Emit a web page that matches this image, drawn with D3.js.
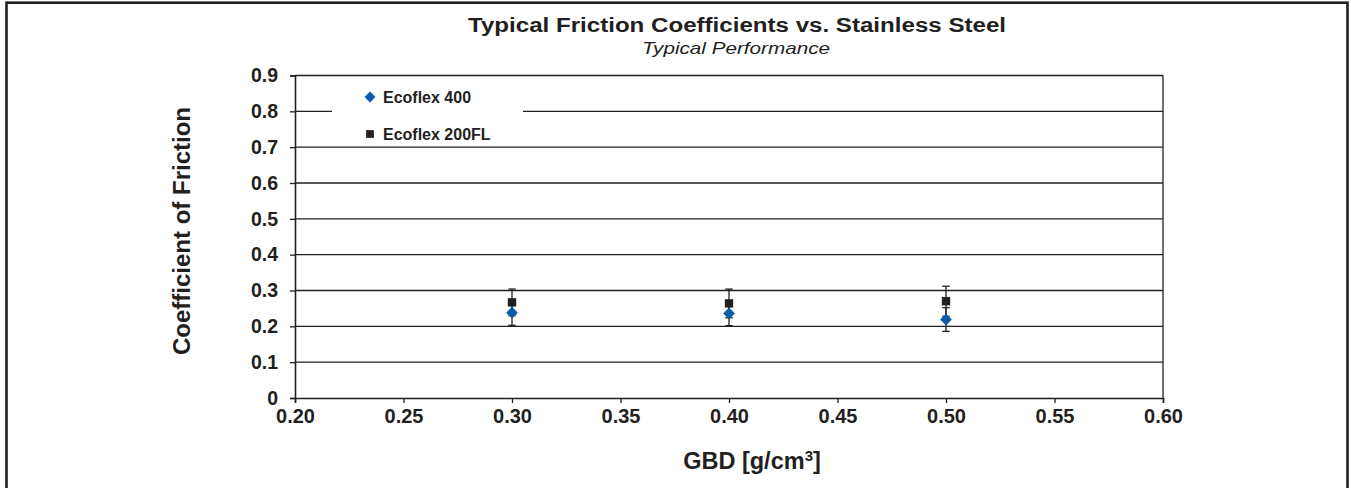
<!DOCTYPE html>
<html>
<head>
<meta charset="utf-8">
<script src="https://cdn.jsdelivr.net/npm/d3@7"></script>
<style>
  html, body { margin: 0; padding: 0; background: #fff; }
  svg { display: block; }
  text { font-family: "Liberation Sans", Arial, Helvetica, sans-serif; fill: #231f20; }
</style>
</head>
<body>
<svg id="chart" width="1351" height="488"></svg>
<script>
// data
const gbd = [0.30, 0.40, 0.50]
const ecoflex400 = [0.238, 0.236, 0.219]
const ecoflex400Err = [0.035, 0.034, 0.033]
const ecoflex200FL = [0.267, 0.264, 0.270]
const ecoflex200FLErr = [0.037, 0.040, 0.042]

const xTicks = [0.20, 0.25, 0.30, 0.35, 0.40, 0.45, 0.50, 0.55, 0.60]
const yTicks = [0, 0.1, 0.2, 0.3, 0.4, 0.5, 0.6, 0.7, 0.8, 0.9]

const ink = '#231f20'
const blue = '#0a5bab'

const svg = d3.select('#chart')

// outer frame
svg.append('rect')
  .attr('x', 6.5).attr('y', 2.7)
  .attr('width', 1341).attr('height', 500)
  .attr('fill', 'none')
  .attr('stroke', ink)
  .attr('stroke-width', 2.6)

const plotLeft = 295, plotRight = 1163, plotTop = 75.5, plotBottom = 398

const x = d3.scaleLinear().domain([0.20, 0.60]).range([plotLeft, plotRight])
const y = d3.scaleLinear().domain([0, 0.9]).range([plotBottom, plotTop])

// gridlines
svg.append('g')
  .selectAll('line')
  .data(yTicks.filter(d => d > 0))
  .enter().append('line')
  .attr('x1', plotLeft).attr('x2', plotRight)
  .attr('y1', d => y(d)).attr('y2', d => y(d))
  .attr('stroke', ink)
  .attr('stroke-width', 1.3)

// right border of plot
svg.append('line')
  .attr('x1', plotRight).attr('x2', plotRight)
  .attr('y1', plotTop).attr('y2', plotBottom)
  .attr('stroke', ink).attr('stroke-width', 1.3)

// axes
const yAxis = svg.append('g')
  .attr('transform', `translate(${plotLeft},0)`)
  .call(d3.axisLeft(y).tickValues(yTicks).tickSize(5).tickPadding(12)
    .tickFormat(d => d === 0 ? '0' : d3.format('.1f')(d)))
yAxis.select('.domain').attr('stroke', ink).attr('stroke-width', 1.6)
yAxis.selectAll('.tick line').attr('stroke', ink).attr('stroke-width', 1.3)
yAxis.selectAll('.tick text')
  .style('font-family', '"Liberation Sans", Arial, sans-serif')
  .style('font-weight', 'bold')
  .style('font-size', '19.5px')
  .attr('fill', ink)

const xAxis = svg.append('g')
  .attr('transform', `translate(0,${plotBottom})`)
  .call(d3.axisBottom(x).tickValues(xTicks).tickSize(5).tickPadding(6)
    .tickFormat(d3.format('.2f')))
xAxis.select('.domain').attr('stroke', ink).attr('stroke-width', 1.6)
xAxis.selectAll('.tick line').attr('stroke', ink).attr('stroke-width', 1.3)
xAxis.selectAll('.tick text')
  .style('font-family', '"Liberation Sans", Arial, sans-serif')
  .style('font-weight', 'bold')
  .style('font-size', '20px')
  .attr('fill', ink)

// titles
svg.append('text')
  .attr('x', 737).attr('y', 32)
  .attr('text-anchor', 'middle')
  .attr('textLength', 538)
  .attr('lengthAdjust', 'spacingAndGlyphs')
  .style('font-weight', 'bold')
  .style('font-size', '20px')
  .text('Typical Friction Coefficients vs. Stainless Steel')

svg.append('text')
  .attr('x', 736).attr('y', 54)
  .attr('text-anchor', 'middle')
  .attr('textLength', 188)
  .attr('lengthAdjust', 'spacingAndGlyphs')
  .style('font-style', 'italic')
  .style('font-size', '16.5px')
  .text('Typical Performance')

svg.append('text')
  .attr('transform', 'translate(190,231) rotate(-90)')
  .attr('text-anchor', 'middle')
  .style('font-weight', 'bold')
  .style('font-size', '24px')
  .text('Coefficient of Friction')

const xTitle = svg.append('text')
  .attr('x', 752).attr('y', 469)
  .attr('text-anchor', 'middle')
  .style('font-weight', 'bold')
  .style('font-size', '23.5px')
xTitle.append('tspan').text('GBD [g/cm')
xTitle.append('tspan').attr('font-size', '15px').attr('dy', -8).text('3')
xTitle.append('tspan').attr('dy', 8).text(']')

// error bars
function errorBars(vals, errs) {
  const g = svg.append('g')
  const rows = gbd.map((d, i) => ({ x: d, v: vals[i], e: errs[i] }))
  g.selectAll('line.stem').data(rows).enter().append('line')
    .attr('x1', d => x(d.x)).attr('x2', d => x(d.x))
    .attr('y1', d => y(d.v - d.e)).attr('y2', d => y(d.v + d.e))
    .attr('stroke', ink).attr('stroke-width', 1.3)
  g.selectAll('line.capTop').data(rows).enter().append('line')
    .attr('x1', d => x(d.x) - 3.7).attr('x2', d => x(d.x) + 3.7)
    .attr('y1', d => y(d.v + d.e)).attr('y2', d => y(d.v + d.e))
    .attr('stroke', ink).attr('stroke-width', 1.3)
  g.selectAll('line.capBot').data(rows).enter().append('line')
    .attr('x1', d => x(d.x) - 3.7).attr('x2', d => x(d.x) + 3.7)
    .attr('y1', d => y(d.v - d.e)).attr('y2', d => y(d.v - d.e))
    .attr('stroke', ink).attr('stroke-width', 1.3)
}
errorBars(ecoflex200FL, ecoflex200FLErr)
errorBars(ecoflex400, ecoflex400Err)

// markers
const diamond = d3.symbol().type(d3.symbolDiamond2).size(88)
const square = d3.symbol().type(d3.symbolSquare).size(70)

svg.append('g').selectAll('path')
  .data(ecoflex200FL)
  .enter().append('path')
  .attr('d', square)
  .attr('transform', (d, i) => `translate(${x(gbd[i])},${y(d)})`)
  .attr('fill', ink)

svg.append('g').selectAll('path')
  .data(ecoflex400)
  .enter().append('path')
  .attr('d', diamond)
  .attr('transform', (d, i) => `translate(${x(gbd[i])},${y(d)})`)
  .attr('fill', blue)

// legend
const legend = svg.append('g')
legend.append('rect')
  .attr('x', 332).attr('y', 80)
  .attr('width', 191).attr('height', 64)
  .attr('fill', '#fff')

const legendItems = [
  { name: 'Ecoflex 400', symbol: d3.symbol().type(d3.symbolDiamond2).size(76), color: blue },
  { name: 'Ecoflex 200FL', symbol: d3.symbol().type(d3.symbolSquare).size(60), color: ink }
]
const item = legend.selectAll('g.item')
  .data(legendItems)
  .enter().append('g')
  .attr('transform', (d, i) => `translate(370,${97 + i * 37})`)
item.append('path')
  .attr('d', d => d.symbol())
  .attr('fill', d => d.color)
item.append('text')
  .attr('x', 13).attr('y', 5.5)
  .style('font-weight', 'bold')
  .style('font-size', '16px')
  .text(d => d.name)
</script>
</body>
</html>
